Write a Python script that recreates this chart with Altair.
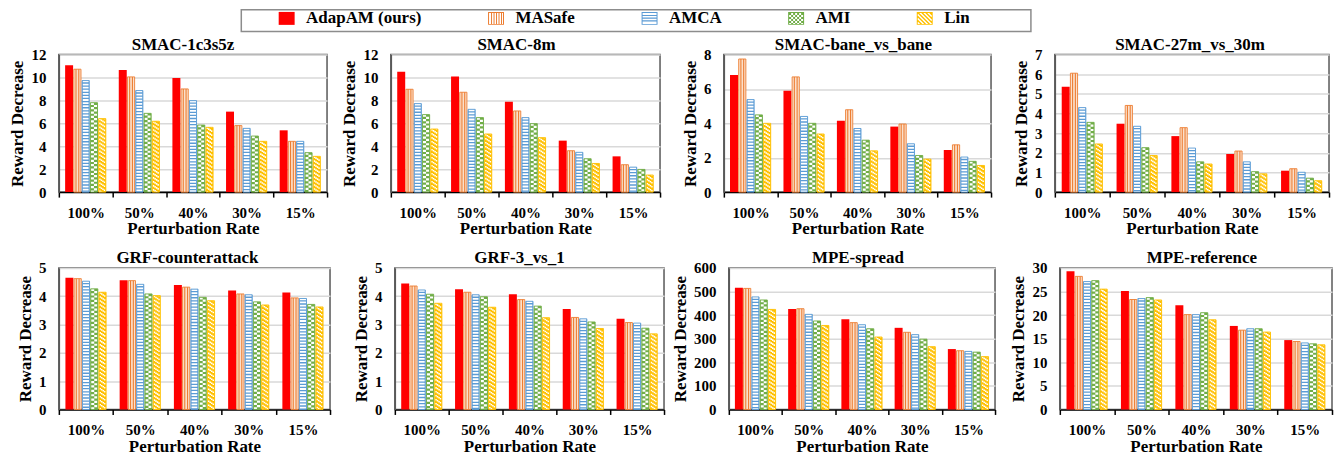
import altair as alt
import pandas as pd

rates = ["100%", "50%", "40%", "30%", "15%"]
series = ["AdapAM (ours)", "MASafe", "AMCA", "AMI", "Lin"]

# values per perturbation rate, in series order
smac_1c3s5z = [[11.07, 10.72, 9.73, 7.8, 6.41], [10.66, 10.05, 8.86, 6.87, 6.18],
               [9.96, 9.0, 7.98, 5.85, 5.65], [7.02, 5.8, 5.56, 4.89, 4.43],
               [5.39, 4.43, 4.43, 3.44, 3.12]]
smac_8m = [[10.49, 8.97, 7.72, 6.76, 5.5], [10.08, 8.71, 7.22, 6.5, 5.07],
           [7.89, 7.08, 6.5, 5.97, 4.75], [4.49, 3.61, 3.47, 2.91, 2.5],
           [3.12, 2.39, 2.18, 1.98, 1.49]]
smac_bane = [[6.81, 7.74, 5.38, 4.49, 4.0], [5.89, 6.7, 4.4, 4.0, 3.38],
             [4.15, 4.79, 3.7, 3.02, 2.4], [3.81, 3.96, 2.81, 2.13, 1.92],
             [2.45, 2.75, 2.04, 1.79, 1.55]]
smac_27m = [[5.36, 6.05, 4.3, 3.55, 2.45], [3.48, 4.41, 3.35, 2.26, 1.86],
            [2.85, 3.28, 2.24, 1.54, 1.43], [1.94, 2.09, 1.54, 1.04, 0.93],
            [1.09, 1.19, 1.01, 0.71, 0.58]]
grf_counter = [[4.65, 4.62, 4.53, 4.26, 4.14], [4.56, 4.55, 4.42, 4.08, 4.02],
               [4.4, 4.32, 4.25, 3.96, 3.84], [4.2, 4.08, 4.05, 3.8, 3.69],
               [4.13, 3.94, 3.92, 3.71, 3.62]]
grf_3v1 = [[4.45, 4.36, 4.22, 4.07, 3.75], [4.25, 4.14, 4.05, 3.98, 3.61],
           [4.07, 3.88, 3.82, 3.65, 3.24], [3.55, 3.25, 3.2, 3.09, 2.86],
           [3.2, 3.07, 3.05, 2.87, 2.67]]
mpe_spread = [[516, 513, 477, 464, 424], [426, 427, 403, 375, 356],
              [382, 368, 359, 342, 307], [346, 327, 317, 298, 266],
              [256, 249, 246, 243, 224]]
mpe_ref = [[29.3, 28.2, 27.1, 27.3, 25.5], [25.1, 23.3, 23.5, 23.7, 23.2],
           [22.1, 20.1, 20.1, 20.5, 19.0], [17.7, 16.8, 17.1, 17.1, 16.4],
           [14.7, 14.4, 14.1, 13.9, 13.7]]

FONT = "Liberation Serif"
RED, ORANGE, BLUE, GREEN, YELLOW = "#FF0000", "#ED7D31", "#5B9BD5", "#70AD47", "#FFC000"
PITCH = 8.3
BW = 7.2
INNER = BW - 1.0


def make_panel(title, rows, ymax, ystep, w, h, dx):
    recs = []
    for r, vals in zip(rates, rows):
        for s, v in zip(series, vals):
            recs.append({"rate": r, "series": s, "value": v, "zero": 0})
    df = pd.DataFrame(recs)
    base = alt.Chart(df)
    x = alt.X("rate:N", sort=rates,
              scale=alt.Scale(domain=rates, paddingInner=0, paddingOuter=0),
              axis=alt.Axis(title="Perturbation Rate", labelAngle=0, tickBand="extent"))
    y = alt.Y("value:Q",
              scale=alt.Scale(domain=[0, ymax], nice=False, zero=True),
              axis=alt.Axis(title="Reward Decrease", values=list(range(0, ymax + 1, ystep))))
    y2 = alt.Y2("zero:Q")
    layers = []

    def sub(s):
        return base.transform_filter(alt.datum.series == s)

    def bar(s, off, **kw):
        return sub(s).mark_bar(width=BW, xOffset=off, **kw).encode(x=x, y=y, y2=y2)

    def rule(s, off, **kw):
        return sub(s).mark_rule(xOffset=off, stroke="white", **kw).encode(x=x, y=y, y2=y2)

    offs = [(i - 2) * PITCH for i in range(5)]
    # AdapAM: solid red
    layers.append(sub(series[0]).mark_bar(width=BW + 0.8, xOffset=offs[0], fill=RED)
                  .encode(x=x, y=y, y2=y2))
    # MASafe: vertical stripes
    o = offs[1]
    layers.append(bar(series[1], o, fill="#FBE0CC"))
    for d in (-1.4, 1.4):
        layers.append(sub(series[1]).mark_rule(xOffset=o + d, stroke=ORANGE, strokeWidth=1.1)
                      .encode(x=x, y=y, y2=y2))
    layers.append(bar(series[1], o, fillOpacity=0, stroke=ORANGE, strokeWidth=0.9))
    # AMCA: horizontal stripes
    o = offs[2]
    layers.append(bar(series[2], o, fill=BLUE))
    layers.append(rule(series[2], o, strokeWidth=INNER, strokeDash=[1.8, 1.3]))
    layers.append(bar(series[2], o, fillOpacity=0, stroke=BLUE, strokeWidth=0.9))
    # AMI: checkerboard
    o = offs[3]
    layers.append(bar(series[3], o, fill=GREEN))
    cw = INNER / 2
    layers.append(rule(series[3], o - cw / 2, strokeWidth=cw, strokeDash=[2.2, 2.2]))
    layers.append(rule(series[3], o + cw / 2, strokeWidth=cw, strokeDash=[2.2, 2.2],
                       strokeDashOffset=2.2))
    layers.append(bar(series[3], o, fillOpacity=0, stroke=GREEN, strokeWidth=0.9))
    # Lin: diagonal stripes
    o = offs[4]
    layers.append(bar(series[4], o, fill=YELLOW))
    n = 4
    cw = INNER / n
    period = 4.0
    for k in range(n):
        layers.append(rule(series[4], o - INNER / 2 + cw * (k + 0.5), strokeWidth=cw,
                           strokeDash=[1.6, period - 1.6],
                           strokeDashOffset=(period - k * 1.0) % period))
    layers.append(bar(series[4], o, fillOpacity=0, stroke=YELLOW, strokeWidth=0.9))

    return alt.layer(*layers).properties(
        width=w, height=h, title=alt.TitleParams(title, dx=dx))


def rect_path(x0, y0, x1, y1):
    def X(v):
        return round(v / 8 - 1, 4)

    def Y(v):
        return round(v / 8 - 0.8125, 4)
    return f"M{X(x0)},{Y(y0)}H{X(x1)}V{Y(y1)}H{X(x0)}Z"


def frame():
    return (rect_path(0, 0, 16, 1) + rect_path(0, 12, 16, 13)
            + rect_path(0, 0, 1, 13) + rect_path(15, 0, 16, 13))


sym_solid = rect_path(0, 0, 16, 13)
sym_vert = frame() + "".join(rect_path(xx, 0, xx + 1, 13) for xx in (3, 5.5, 8, 10.5, 13))
sym_horz = frame() + "".join(rect_path(0, yy, 16, yy + 1.1) for yy in (3, 5.7, 8.4))
sym_check = frame() + "".join(rect_path(xx, yy, xx + 2, yy + 2)
                              for xx in range(1, 15, 2) for yy in range(1, 12, 2)
                              if ((xx // 2) + (yy // 2)) % 2 == 0)
sym_diag = frame() + "".join(rect_path(xx, yy, xx + 1, yy + 1)
                             for xx in range(1, 15) for yy in range(1, 12)
                             if (xx - yy) % 4 in (0, 1))

leg = alt.Legend(title=None, orient="none", legendX=37, legendY=0, direction="horizontal",
                 symbolSize=256, symbolStrokeWidth=0, symbolOpacity=1,
                 labelOffset=11, columnPadding=66, labelLimit=400, padding=0)
legend_df = pd.DataFrame({"series": series})
legend_chart = alt.Chart(legend_df).mark_point(filled=True, opacity=1).encode(
    x=alt.value(10), y=alt.value(10), size=alt.value(0),
    color=alt.Color("series:N", scale=alt.Scale(domain=series,
                    range=[RED, ORANGE, BLUE, GREEN, YELLOW]), legend=leg),
    shape=alt.Shape("series:N", scale=alt.Scale(domain=series,
                    range=[sym_solid, sym_vert, sym_horz, sym_check, sym_diag]), legend=leg),
).properties(width=792, height=22, view=alt.ViewBackground(stroke="#8C8C8C", strokeWidth=1.5))

spacer = alt.Chart(pd.DataFrame({"k": [0]})).mark_point(opacity=0, size=0).encode(
    x=alt.value(10), y=alt.value(10)
).properties(width=173, height=22, view=alt.ViewBackground(stroke="transparent"))

legend_row = alt.hconcat(spacer, legend_chart, spacing=10, bounds="flush").resolve_scale(
    color="independent", shape="independent")

row1 = alt.hconcat(
    make_panel("SMAC-1c3s5z", smac_1c3s5z, 12, 2, 269, 138, -10),
    make_panel("SMAC-8m", smac_8m, 12, 2, 270, 138, -9),
    make_panel("SMAC-bane_vs_bane", smac_bane, 8, 2, 268, 138, -4),
    make_panel("SMAC-27m_vs_30m", smac_27m, 7, 1, 275, 138, -2),
    spacing=64, bounds="flush")
row2 = alt.hconcat(
    make_panel("GRF-counterattack", grf_counter, 5, 1, 272, 142, -7),
    make_panel("GRF-3_vs_1", grf_3v1, 5, 1, 270, 142, -10),
    make_panel("MPE-spread", mpe_spread, 600, 100, 267, 142, -4),
    make_panel("MPE-reference", mpe_ref, 30, 5, 273, 142, 6),
    spacing=65, bounds="flush")

grid = alt.vconcat(row1, row2, spacing=10)
chart = alt.vconcat(legend_row, grid, spacing=2).resolve_scale(
    color="independent", shape="independent"
).properties(padding={"top": 0, "left": 0, "right": 0, "bottom": 0}).configure(
    font=FONT, background="white"
).configure_view(
    stroke="#595959", strokeWidth=1.5
).configure_axis(
    labelFont=FONT, labelFontSize=15, labelFontWeight="bold", labelColor="black",
    titleFont=FONT, titleFontSize=17, titleFontWeight="bold", titleColor="black",
).configure_axisX(
    ticks=True, tickSize=5, tickColor="black", tickWidth=1.5,
    domainColor="black", domainWidth=1.5, grid=False,
    labelPadding=8, titlePadding=1,
).configure_axisY(
    ticks=False, tickSize=0, domainColor="#595959", domainWidth=1.5,
    grid=True, gridColor="#D9D9D9", gridWidth=1.5,
    labelPadding=13, titlePadding=4,
).configure_title(
    font=FONT, fontSize=17, fontWeight="bold", color="black", anchor="middle",
    offset=-6.5, frame="group",
).configure_legend(
    labelFont=FONT, labelFontSize=17, labelFontWeight="bold", labelColor="black",
)

chart.save("out.html", embed_options={"renderer": "svg", "actions": False})
